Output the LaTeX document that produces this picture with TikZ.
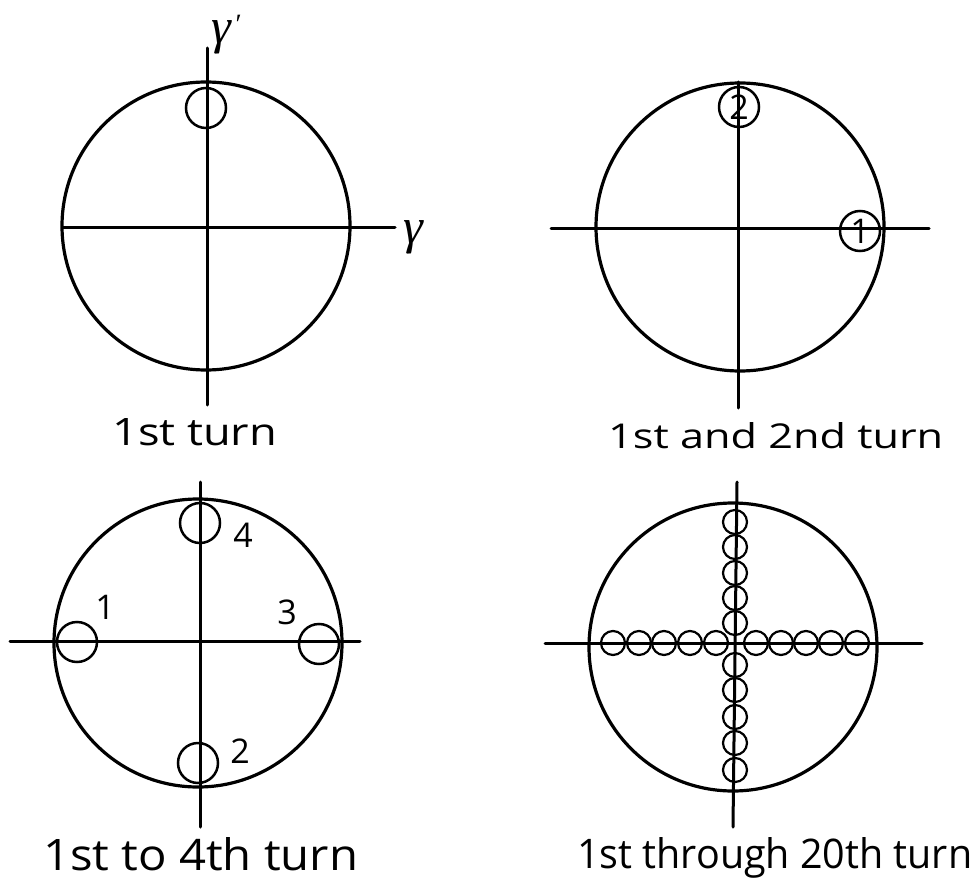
\documentclass[tikz,border=0pt]{standalone}
\usepackage{fontspec}
\setmainfont{Open Sans}
\newfontfamily\greekfont{Liberation Serif}
\begin{document}
\begin{tikzpicture}[x=1pt,y=-1pt,line cap=round,
  bigc/.style={draw,circle,line width=3.2pt,inner sep=0pt,minimum size=288pt},
  smallc/.style={draw,circle,line width=2.5pt,inner sep=0pt,minimum size=40pt},
  tinyc/.style={draw,circle,line width=2.2pt,inner sep=0pt,minimum size=24pt},
  axis/.style={line width=3pt},
  caption/.style={inner sep=0pt,anchor=base west,font=\fontsize{36}{42}\selectfont},
  num/.style={inner sep=0pt,font=\fontsize{34}{40}\selectfont},
  greek/.style={inner sep=0pt,font=\fontsize{50}{58}\selectfont\greekfont\itshape}]
\useasboundingbox (0,0) rectangle (979,882);
\fill[white] (0,0) rectangle (979,882);

% ---------- Panel 1: 1st turn ----------
\node[bigc] (A) at (206,226) {};
\coordinate (Ah1) at (63,228);
\coordinate (Ah2) at (395,228);
\coordinate (Av1) at (207,48);
\coordinate (Av2) at (207,405);
\draw[axis] (Ah1) -- (Ah2);
\draw[axis] (Av1) -- (Av2);
\node[smallc] (A1) at (206,108) {};
\node[greek,anchor=base west] (Agp) at (211,44) {γ\raisebox{10pt}{\upshape\fontsize{28}{30}\selectfont\,ʹ}};
\node[greek,anchor=base west] (Ag) at (403,244) {γ};
\node[caption] (Acap) at (112,445) {\resizebox{165pt}{27pt}{1st turn}};

% ---------- Panel 2: 1st and 2nd turn ----------
\node[bigc] (B) at (740,227) {};
\coordinate (Bh1) at (551,229);
\coordinate (Bh2) at (929,229);
\coordinate (Bv1) at (738,82);
\coordinate (Bv2) at (738,408);
\draw[axis] (Bh1) -- (Bh2);
\draw[axis] (Bv1) -- (Bv2);
\node[smallc,num] (B2) at (739,107) {2};
\node[smallc,num] (B1) at (860,231) {1};
\node[caption] (Bcap) at (608,448) {\resizebox{335pt}{26pt}{1st and 2nd turn}};

% ---------- Panel 3: 1st to 4th turn ----------
\node[bigc] (C) at (198,643) {};
\coordinate (Ch1) at (10,641);
\coordinate (Ch2) at (360,641);
\coordinate (Cv1) at (200,482);
\coordinate (Cv2) at (200,827);
\draw[axis] (Ch1) -- (Ch2);
\draw[axis] (Cv1) -- (Cv2);
\node[smallc] (C4) at (200,523) {};
\node[smallc] (C1) at (77,642) {};
\node[smallc] (C3) at (319,644) {};
\node[smallc] (C2) at (198,763) {};
\node[num] (C4l) at (243,535) {4};
\node[num] (C1l) at (105,607) {1};
\node[num] (C3l) at (287,612) {3};
\node[num] (C2l) at (240,751) {2};
\node[caption] (Ccap) at (43,870) {\resizebox{315pt}{33pt}{1st to 4th turn}};

% ---------- Panel 4: 1st through 20th turn ----------
\node[bigc] (D) at (733,647) {};
\coordinate (Dh1) at (545,643);
\coordinate (Dh2) at (922,643);
\coordinate (Dv1) at (737,482);
\coordinate (Dv2) at (733,827);
\draw[axis] (Dh1) -- (Dh2);
\draw[axis] (Dv1) -- (Dv2);
\foreach \x [count=\i] in {613,639,664,690,716,756,781,806,831,857}
  \node[tinyc] (Dh\i) at (\x,643) {};
\foreach \y [count=\i] in {522,547,573,598,623,665,690,717,743,770}
  \node[tinyc] (Dv\i) at (735,\y) {};
\node[caption] (Dcap) at (577,868) {\resizebox{395pt}{31pt}{1st through 20th turn}};
\end{tikzpicture}
\end{document}
